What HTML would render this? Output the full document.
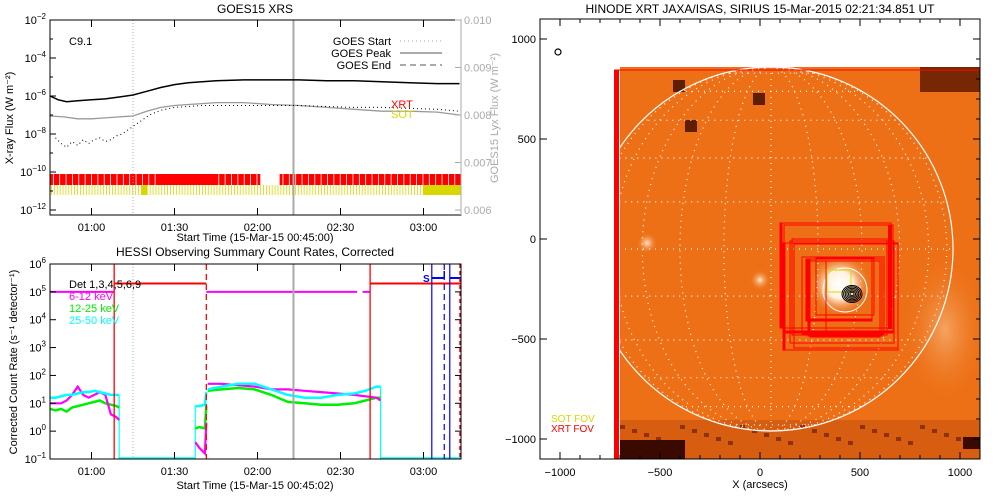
<!DOCTYPE html>
<html><head><meta charset="utf-8">
<style>
html,body{margin:0;padding:0;background:#fff;}
svg{display:block;font-family:"Liberation Sans",sans-serif;}
</style></head>
<body>
<svg id="root" width="1000" height="500" viewBox="0 0 1000 500" xmlns="http://www.w3.org/2000/svg">
<defs>
<radialGradient id="flare" cx="0.5" cy="0.5" r="0.5">
<stop offset="0" stop-color="#ffffff"/><stop offset="0.45" stop-color="#fff2e0"/><stop offset="1" stop-color="#f08030" stop-opacity="0"/>
</radialGradient>
<radialGradient id="limb" cx="0.5" cy="0.5" r="0.5">
<stop offset="0" stop-color="#fbd0a0"/><stop offset="1" stop-color="#f08030" stop-opacity="0"/>
</radialGradient>
<radialGradient id="spot" cx="0.5" cy="0.5" r="0.5">
<stop offset="0" stop-color="#ffe8d0"/><stop offset="1" stop-color="#f08030" stop-opacity="0"/>
</radialGradient>
<clipPath id="mapclip"><rect x="620" y="67" width="360" height="392"/></clipPath>
</defs>
<g id="goes"></g>
<g id="hessi"></g>
<g id="map"></g>
</svg>
<script>
// ---------- GOES data (minutes after 00:45, log10 flux) ----------
const goesLongT = [0,3,6,10,15,20,25,30,35,40,45,50,55,60,70,80,90,100,110,120,130,140,148];
const goesLongV = [-6.0,-6.2,-6.3,-6.25,-6.2,-6.15,-6.05,-5.95,-5.75,-5.55,-5.4,-5.3,-5.25,-5.2,-5.15,-5.15,-5.15,-5.2,-5.2,-5.25,-5.3,-5.35,-5.35];
const goesShortT = [0,5,10,15,20,25,30,35,40,45,50,55,60,70,80,90,100,110,120,130,140,148];
const goesShortV = [-7.05,-7.1,-7.2,-7.2,-7.15,-7.1,-7.05,-6.8,-6.6,-6.5,-6.45,-6.4,-6.35,-6.35,-6.45,-6.5,-6.6,-6.7,-6.8,-6.8,-6.85,-7.0];
const goesDotT = [2,4,6,8,10,12,14,16,18,20,22,24,26,28,30,33,36,40,45,50,55,60,70,80,90,100,110,120,130,140,148];
const goesDotV = [-8.2,-8.5,-8.7,-8.4,-8.6,-8.3,-8.5,-8.3,-8.2,-8.4,-8.3,-8.1,-8.0,-7.8,-7.6,-7.3,-7.0,-6.75,-6.6,-6.55,-6.5,-6.5,-6.5,-6.5,-6.5,-6.55,-6.6,-6.6,-6.65,-6.7,-6.8];
const goesYTicks = [-2,-4,-6,-8,-10,-12];
const goesRTicks = ["0.010","0.009","0.008","0.007","0.006"];
const timeTickMin = [15,45,75,105,135];
const timeTickLbl = ["01:00","01:30","02:00","02:30","03:00"];
const xrtCover = [[0,76],[83,148.5]];
const sotSolid = [[135,148.5]];
const goesMarkers = [30,88]; // start (dotted), peak (solid)

// ---------- HESSI data ----------
const hT1 = [0,2,4,6,8,10,12,14,16,18,20,22,24,25];
const hMag1 = [1.0,1.0,1.0,1.1,1.3,1.6,1.3,1.2,1.3,1.4,1.3,0.6,0.5,0.4];
const hGrn1 = [0.8,0.75,0.8,0.7,0.85,0.9,0.95,1.0,1.05,1.1,1.0,0.95,0.9,0.85];
const hCyn1 = [1.2,1.2,1.25,1.3,1.3,1.35,1.4,1.4,1.45,1.4,1.35,1.3,1.3,1.3];
const hT2 = [52.5,54,56,56.5];
const hMag2 = [-0.4,-0.6,-0.8,0.3];
const hGrn2 = [0.1,0.15,0.1,0.9];
const hCyn2 = [0.9,0.9,0.95,1.4];
const hT3 = [57,62,68,74,80,86,92,98,104,110,114,118,119.5];
const hMag3 = [1.7,1.7,1.65,1.6,1.5,1.5,1.45,1.4,1.35,1.3,1.25,1.2,1.1];
const hGrn3 = [1.45,1.5,1.55,1.5,1.3,1.05,1.0,0.95,0.95,1.0,1.1,1.2,1.2];
const hCyn3 = [1.5,1.6,1.7,1.7,1.5,1.3,1.2,1.2,1.3,1.35,1.45,1.6,1.6];
const hYTicks = [6,5,4,3,2,1,0,-1];
const attT = [0,23.2,56.5,115.7,148.5];
const attV = [5.0,5.3,5.0,5.3];
const redSolidLines = [23.2,115.7];
const redDashLines = [56.5];
const blueSolid = [138,144.5];
const blueDash = [142.5];

// ---------- Map data (arcsec) ----------
const fovRects = [[100,655,80,-445],[120,665,70,-470],[160,635,0,-480],[115,690,-20,-555],[170,690,-25,-545],[210,620,-90,-480],[240,610,-100,-485],[250,600,-110,-490],[280,570,-95,-380],[230,560,-100,-410],[150,670,-10,-520],[330,600,-110,-460]];
const sotRect = [335,455,-155,-265];
const contourR = [10,18,26,34,42,50];
const mapTicks = [-1000,-500,0,500,1000];

const NS="http://www.w3.org/2000/svg";
function el(parent, tag, attrs, text){
  const e=document.createElementNS(NS,tag);
  for(const k in attrs) e.setAttribute(k,attrs[k]);
  if(text!==undefined) e.textContent=text;
  parent.appendChild(e); return e;
}
function sup(parent,x,y,base,exp,anchor,fill,size){
  const t=el(parent,'text',{x:x,y:y,'text-anchor':anchor||'end','font-size':size||11,fill:fill||'#000'});
  const a=document.createElementNS(NS,'tspan');a.textContent=base;t.appendChild(a);
  const b=document.createElementNS(NS,'tspan');b.setAttribute('dy','-5');b.setAttribute('font-size','8');b.textContent=exp;t.appendChild(b);
  return t;
}
const X0=50,X1=461;
function xt(m){return X0+m*83/30;}

// ================= GOES panel =================
(function(){
  const g=document.getElementById('goes');
  const Y0=20,Y1=210;
  const yg=v=>Y0+(-2-v)*19;
  let t=el(g,'text',{x:255,y:13,'text-anchor':'middle','font-size':12},'GOES15 XRS');
  
  
  const bars=el(g,'g',{});
  
  
  xrtCover.forEach(c=>{
    const r=el(bars,'rect',{x:xt(c[0]),y:174,width:xt(c[1])-xt(c[0]),height:11,fill:'#ff0000'});
    
    
    for(let m=c[0]+1.2;m<c[1];m+=2.3){ if(m>40&&m<60&&c[0]===0) continue; el(bars,'line',{x1:xt(m),x2:xt(m),y1:174,y2:185,stroke:'#fff','stroke-width':0.8});}
  });
  for(let m=0.5;m<148;m+=1.05){ el(bars,'line',{x1:xt(m),x2:xt(m),y1:185,y2:195,stroke:'#d8d800','stroke-width':0.8}); }
  sotSolid.forEach(c=>{
    const r=el(bars,'rect',{x:xt(c[0]),y:185,width:xt(c[1])-xt(c[0]),height:10,fill:'#d8d800'});
    
    
  });
  el(bars,'rect',{x:xt(33),y:185,width:6,height:10,fill:'#d8d800'});
  let l=el(g,'line',{x1:xt(goesMarkers[0]),x2:xt(goesMarkers[0]),y1:Y0,y2:Y1+5,stroke:'#aaa','stroke-dasharray':'1,2'});
  
  
  l=el(g,'line',{x1:xt(goesMarkers[1]),x2:xt(goesMarkers[1]),y1:Y0,y2:Y1+5,stroke:'#aaa','stroke-width':2});
  
  
  const mk=(T,V)=>T.map((m,i)=>xt(m).toFixed(1)+','+yg(V[i]).toFixed(1)).join(' ');
  let p=el(g,'polyline',{points:mk(goesLongT,goesLongV),fill:'none',stroke:'#000','stroke-width':1.5});
  
  
  p=el(g,'polyline',{points:mk(goesShortT,goesShortV),fill:'none',stroke:'#999','stroke-width':1.3});
  
  
  p=el(g,'polyline',{points:mk(goesDotT,goesDotV),fill:'none',stroke:'#000','stroke-width':1,'stroke-dasharray':'1,3'});
  
  
  el(g,'rect',{x:X0,y:Y0,width:X1-X0,height:Y1-Y0+5,fill:'none',stroke:'#000'});
  el(g,'line',{x1:X1,x2:X1,y1:Y0,y2:Y1+5,stroke:'#aaa'});
  goesYTicks.forEach(v=>{
    const y=yg(v);
    el(g,'line',{x1:X0,x2:X0+6,y1:y,y2:y,stroke:'#000'});
    const tt=sup(g,X0-4,y+4,'10',String(v).replace('-','\u2212'));
    
    
  });
  for(let v=-3;v>=-11;v-=2){el(g,'line',{x1:X0,x2:X0+3,y1:yg(v),y2:yg(v),stroke:'#000'});}
  goesRTicks.forEach((s,i)=>{
    const y=Y0+i*47.5;
    el(g,'line',{x1:X1,x2:X1-6,y1:y,y2:y,stroke:'#aaa'});
    const tt=el(g,'text',{x:X1+3,y:y+4,'font-size':11,fill:'#aaa'},s);
    
    
  });
  timeTickMin.forEach((m,i)=>{
    el(g,'line',{x1:xt(m),x2:xt(m),y1:Y1+5,y2:Y1-2,stroke:'#000'});
    el(g,'line',{x1:xt(m),x2:xt(m),y1:Y0,y2:Y0+7,stroke:'#000'});
    const tt=el(g,'text',{x:xt(m),y:Y1+21,'text-anchor':'middle','font-size':11},timeTickLbl[i]);
    
    
  });
  t=el(g,'text',{x:255,y:241,'text-anchor':'middle','font-size':11},'Start Time (15-Mar-15 00:45:00)');
  
  
  t=el(g,'text',{x:0,y:0,'text-anchor':'middle','font-size':11,transform:'translate(13,118) rotate(-90)'},'X-ray Flux (W m\u207B\u00B2)');
  
  
  t=el(g,'text',{x:0,y:0,'text-anchor':'middle','font-size':11,fill:'#aaa',transform:'translate(498,118) rotate(-90)'},'GOES15 Lyx Flux (W m\u207B\u00B2)');
  
  
  t=el(g,'text',{x:69,y:45,'font-size':11},'C9.1');
  
  
  const lg=el(g,'g',{});
  
  
  [['GOES Start','1,3',1],['GOES Peak','',2],['GOES End','6,4',2]].forEach((e,i)=>{
    const y=41+i*12;
    el(lg,'text',{x:391,y:y+4,'text-anchor':'end','font-size':11},e[0]);
    const a={x1:400,x2:442,y1:y,y2:y,stroke:'#aaa','stroke-width':e[2]};
    if(e[1]) a['stroke-dasharray']=e[1];
    el(lg,'line',a);
  });
  t=el(g,'text',{x:391,y:108,'font-size':11,fill:'#f00'},'XRT');
  
  
  t=el(g,'text',{x:391,y:118,'font-size':11,fill:'#d8d800'},'SOT');
  
  
})();

// ================= HESSI panel =================
(function(){
  const g=document.getElementById('hessi');
  const Y0=264,Y1=459;
  const yh=v=>Y0+(6-v)*(195/7);
  let t=el(g,'text',{x:255,y:256,'text-anchor':'middle','font-size':12},'HESSI Observing Summary Count Rates, Corrected');
  
  
  const mk=(T,V)=>T.map((m,i)=>xt(m).toFixed(1)+','+yh(V[i]).toFixed(1)).join(' ');
  el(g,'line',{x1:xt(25),x2:xt(52.5),y1:Y1-1,y2:Y1-1,stroke:'#00ffff','stroke-width':1.5});
  el(g,'line',{x1:xt(119.5),x2:X1,y1:Y1-1,y2:Y1-1,stroke:'#00ffff','stroke-width':1.5});
  el(g,'line',{x1:xt(25),x2:xt(25),y1:yh(1.3),y2:Y1,stroke:'#00ffff','stroke-width':1.2});
  el(g,'line',{x1:xt(52.5),x2:xt(52.5),y1:yh(0.9),y2:Y1,stroke:'#00ffff','stroke-width':1.2});
  el(g,'line',{x1:xt(119.5),x2:xt(119.5),y1:yh(1.6),y2:Y1,stroke:'#00ffff','stroke-width':1.2});
  [[hT1,hMag1,hGrn1,hCyn1],[hT2,hMag2,hGrn2,hCyn2],[hT3,hMag3,hGrn3,hCyn3]].forEach((s,k)=>{
    let p=el(g,'polyline',{points:mk(s[0],s[2]),fill:'none',stroke:'#00ee00','stroke-width':2.5});
    
    
    p=el(g,'polyline',{points:mk(s[0],s[1]),fill:'none',stroke:'#ff00ff','stroke-width':2.2});
    
    
    p=el(g,'polyline',{points:mk(s[0],s[3]),fill:'none',stroke:'#00ffff','stroke-width':2.5});
    
    
  });
  for(let i=0;i<attV.length;i++){
    const col=attV[i]>5.1?'#ff0000':'#ff00ff';
    let segs=[[attT[i],attT[i+1]]];
    if(i===2) segs=[[attT[i],111],[113,attT[i+1]]];
    segs.forEach(sg=>{
      const l=el(g,'line',{x1:xt(sg[0]),x2:xt(sg[1]),y1:yh(attV[i]),y2:yh(attV[i]),stroke:col,'stroke-width':2});
      
      
    });
  }
  redSolidLines.forEach(m=>{const l=el(g,'line',{x1:xt(m),x2:xt(m),y1:Y0,y2:Y1,stroke:'#f00','stroke-width':1.3});
    });
  redDashLines.forEach(m=>{const l=el(g,'line',{x1:xt(m),x2:xt(m),y1:Y0,y2:Y1,stroke:'#f00','stroke-width':1.3,'stroke-dasharray':'6,4'});
    });
  blueSolid.forEach(m=>{const l=el(g,'line',{x1:xt(m),x2:xt(m),y1:Y0,y2:Y1,stroke:'#00f','stroke-width':1.2});
    });
  blueDash.forEach(m=>{const l=el(g,'line',{x1:xt(m),x2:xt(m),y1:Y0,y2:Y1,stroke:'#00f','stroke-width':1.2,'stroke-dasharray':'6,4'});
    });
  el(g,'line',{x1:xt(138),x2:xt(142.5),y1:278,y2:278,stroke:'#00f','stroke-width':2});
  el(g,'line',{x1:xt(142.5),x2:xt(142.5),y1:271,y2:278,stroke:'#00f','stroke-width':1.5});
  el(g,'line',{x1:xt(144.5),x2:X1,y1:278,y2:278,stroke:'#00f','stroke-width':2});
  el(g,'line',{x1:X1-1,x2:X1-1,y1:Y0,y2:Y1,stroke:'#f00','stroke-width':1.5,'stroke-dasharray':'4,3'});
  t=el(g,'text',{x:423,y:282,'font-size':10,fill:'#00f','font-weight':'bold'},'S');
  
  
  let l=el(g,'line',{x1:xt(30),x2:xt(30),y1:Y0,y2:Y1,stroke:'#aaa','stroke-dasharray':'1,2'});
  
  l=el(g,'line',{x1:xt(88),x2:xt(88),y1:Y0,y2:Y1,stroke:'#aaa','stroke-width':2});
  
  el(g,'rect',{x:X0,y:Y0,width:X1-X0,height:Y1-Y0,fill:'none',stroke:'#000'});
  hYTicks.forEach(v=>{
    const y=yh(v);
    el(g,'line',{x1:X0,x2:X0+6,y1:y,y2:y,stroke:'#000'});
    el(g,'line',{x1:X1,x2:X1-6,y1:y,y2:y,stroke:'#000'});
    const tt=sup(g,X0-4,y+4,'10',String(v).replace('-','\u2212'));
    
    
  });
  timeTickMin.forEach((m,i)=>{
    el(g,'line',{x1:xt(m),x2:xt(m),y1:Y1,y2:Y1-7,stroke:'#000'});
    el(g,'line',{x1:xt(m),x2:xt(m),y1:Y0,y2:Y0+7,stroke:'#000'});
    const tt=el(g,'text',{x:xt(m),y:Y1+16,'text-anchor':'middle','font-size':11},timeTickLbl[i]);
    
    
  });
  t=el(g,'text',{x:255,y:489,'text-anchor':'middle','font-size':11},'Start Time (15-Mar-15 00:45:02)');
  
  
  t=el(g,'text',{x:0,y:0,'text-anchor':'middle','font-size':11,transform:'translate(17,362) rotate(-90)'},'Corrected Count Rate (s\u207B\u00B9 detector\u207B\u00B9)');
  
  
  const lg=el(g,'g',{});
  
  
  [['Det 1,3,4,5,6,9','#000'],['6-12 keV','#ff00ff'],['12-25 keV','#00ee00'],['25-50 keV','#00ffff']].forEach((e,i)=>{
    el(lg,'text',{x:69,y:288+i*12,'font-size':11,fill:e[1]},e[0]);
  });
})();

// ================= Map panel =================
(function(){
  const g=document.getElementById('map');
  const px=a=>760+a*0.2, py=a=>239-a*0.2;
  let t=el(g,'text',{x:760,y:13,'text-anchor':'middle','font-size':12},'HINODE XRT JAXA/ISAS, SIRIUS 15-Mar-2015 02:21:34.851 UT');
  
  
  const img=el(g,'g',{'clip-path':'url(#mapclip)'});
  
  
  el(img,'rect',{x:620,y:67,width:360,height:392,fill:'#ec6a12'});
  el(img,'rect',{x:620,y:67,width:360,height:392,fill:'#f07a20',opacity:0.35});
  el(img,'ellipse',{cx:945,cy:330,rx:40,ry:70,fill:'url(#limb)',opacity:0.55});
  el(img,'circle',{cx:760,cy:280,r:10,fill:'url(#spot)'});
  el(img,'circle',{cx:647,cy:243,r:10,fill:'url(#spot)'});
  el(img,'circle',{cx:840,cy:285,r:30,fill:'url(#flare)'});
  el(img,'rect',{x:620,y:420,width:360,height:39,fill:'#c8500e',opacity:0.6});
  for(let x=620;x<980;x+=12){ el(img,'rect',{x:x,y:425+((x*7)%20),width:5,height:4,fill:'#5a1500',opacity:0.6}); }
  el(img,'rect',{x:620,y:440,width:65,height:19,fill:'#3a0a00'});
  el(img,'rect',{x:920,y:67,width:60,height:25,fill:'#5a1500',opacity:0.8});
  el(img,'rect',{x:963,y:437,width:17,height:12,fill:'#3a0a00'});
  [[678,85],[758,98],[690,125]].forEach(s=>el(img,'rect',{x:s[0]-5,y:s[1]-5,width:12,height:12,fill:'#3a0a00',opacity:0.8}));
  const cx=771,cy=249,R=182;
  for(let lat=-75;lat<=75;lat+=15){
    const y=cy-R*Math.sin(lat*Math.PI/180), w=R*Math.cos(lat*Math.PI/180);
    el(img,'line',{x1:cx-w,x2:cx+w,y1:y,y2:y,stroke:'#fff','stroke-width':1.2,'stroke-dasharray':'1,5'});
  }
  for(let lon=-75;lon<=75;lon+=15){
    const rx=Math.abs(R*Math.sin(lon*Math.PI/180));
    if(rx<1) el(img,'line',{x1:cx,x2:cx,y1:cy-R,y2:cy+R,stroke:'#fff','stroke-width':1.2,'stroke-dasharray':'1,5'});
    else el(img,'path',{d:`M${cx},${cy-R} A${rx},${R} 0 0 ${lon>0?1:0} ${cx},${cy+R}`,fill:'none',stroke:'#fff','stroke-width':1.2,'stroke-dasharray':'1,5'});
  }
  const limb=el(img,'circle',{cx:cx,cy:cy,r:R,fill:'none',stroke:'#fff','stroke-width':1.2});
  
  
  el(img,'circle',{cx:845,cy:290,r:22,fill:'none',stroke:'#fff','stroke-width':1});
  fovRects.forEach((r,i)=>{
    const e=el(img,'rect',{x:px(r[0]),y:py(r[2]),width:(r[1]-r[0])*0.2,height:(r[2]-r[3])*0.2,fill:'none',stroke:'#ff0000','stroke-width':1});
    
    
    if(i%3===0) el(img,'line',{x1:px(r[0])+1,x2:px(r[0])+1,y1:py(r[2]),y2:py(r[3]),stroke:'#f00','stroke-width':3});
    if(i%4===1) el(img,'line',{x1:px(r[0]),x2:px(r[1]),y1:py(r[3])-1,y2:py(r[3])-1,stroke:'#f00','stroke-width':3});
  });
  el(img,'line',{x1:px(650),x2:px(650),y1:py(70),y2:py(-450),stroke:'#f00','stroke-width':4});
  const s=el(img,'rect',{x:px(sotRect[0]),y:py(sotRect[2]),width:(sotRect[1]-sotRect[0])*0.2,height:(sotRect[2]-sotRect[3])*0.2,fill:'none',stroke:'#d8d800','stroke-width':1});
  
  
  const cg=el(img,'g',{});
  
  
  contourR.forEach((r,i)=>el(cg,'ellipse',{cx:px(460),cy:py(-275),rx:r*0.2,ry:r*0.17,fill:'none',stroke:'#000','stroke-width':1}));
  let e=el(g,'rect',{x:614,y:70,width:5,height:389,fill:'#ff0000'});
  
  
  el(g,'line',{x1:614,x2:980,y1:70,y2:70,stroke:'#f00'});
  el(g,'circle',{cx:558,cy:52,r:3,fill:'none',stroke:'#000','stroke-width':1.2});
  el(g,'rect',{x:540,y:19,width:440,height:440,fill:'none',stroke:'#000'});
  mapTicks.forEach(v=>{
    el(g,'line',{x1:px(v),x2:px(v),y1:459,y2:452,stroke:'#000'});
    el(g,'line',{x1:px(v),x2:px(v),y1:19,y2:26,stroke:'#000'});
    el(g,'line',{x1:540,x2:547,y1:py(v),y2:py(v),stroke:'#000'});
    el(g,'line',{x1:980,x2:973,y1:py(v),y2:py(v),stroke:'#000'});
    let tt=el(g,'text',{x:px(v),y:476,'text-anchor':'middle','font-size':11},String(v).replace('-','\u2212'));
    
    
    tt=el(g,'text',{x:536,y:py(v)+4,'text-anchor':'end','font-size':11},String(v).replace('-','\u2212'));
    
    
  });
  for(let v=-1000;v<=1000;v+=100){
    el(g,'line',{x1:px(v),x2:px(v),y1:459,y2:455,stroke:'#000'});
    el(g,'line',{x1:px(v),x2:px(v),y1:19,y2:23,stroke:'#000'});
    el(g,'line',{x1:980,x2:976,y1:py(v),y2:py(v),stroke:'#000'});
  }
  t=el(g,'text',{x:760,y:488,'text-anchor':'middle','font-size':11},'X (arcsecs)');
  
  
  t=el(g,'text',{x:551,y:422,'font-size':10,fill:'#d8d800'},'SOT FOV');
  
  
  t=el(g,'text',{x:551,y:432,'font-size':10,fill:'#f00'},'XRT FOV');
  
  
})();
</script>
</body></html>
